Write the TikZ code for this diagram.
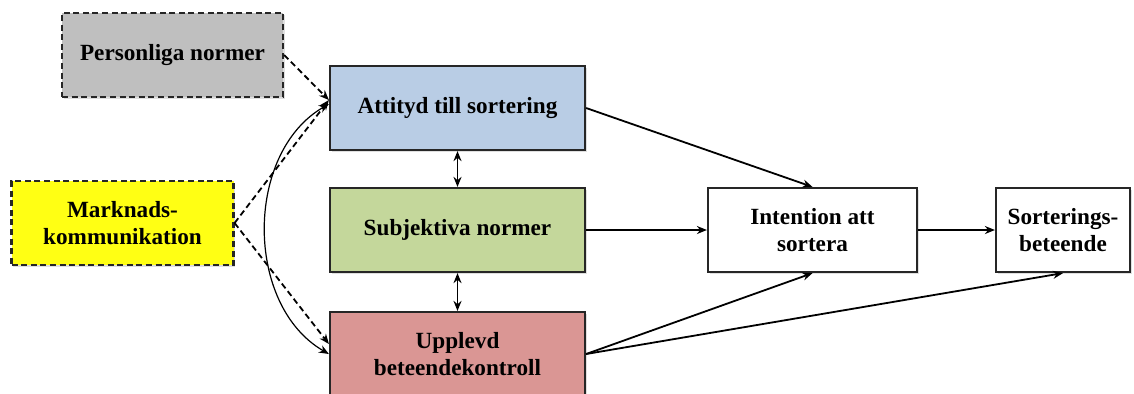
\documentclass[tikz,border=0pt]{standalone}
\usepackage{fontspec}
\setmainfont{Liberation Serif}
\usetikzlibrary{arrows.meta,shadows}

\definecolor{persgray}{RGB}{191,191,191}
\definecolor{attblue}{RGB}{185,205,229}
\definecolor{subgreen}{RGB}{196,215,155}
\definecolor{uppred}{RGB}{218,150,148}
\definecolor{markyellow}{RGB}{255,255,20}

\begin{document}
\begin{tikzpicture}[x=0.5pt, y=0.5pt,
  box/.style={draw=black!85, line width=1.1pt, align=center, inner sep=2pt,
    font=\fontsize{11.6}{13.6}\selectfont\bfseries, minimum height=42pt,
    drop shadow={shadow xshift=0.8pt, shadow yshift=-0.8pt, opacity=0.25}},
  extbox/.style={box, dash pattern=on 3pt off 1.8pt},
  arr/.style={line width=0.9pt, -{Stealth[length=5pt, width=4pt]}},
  dasharr/.style={arr, dash pattern=on 3pt off 1.8pt}]

  \useasboundingbox (0,0) rectangle (1134,-393);

  \node[extbox, fill=persgray, minimum width=110.5pt] (pers) at (172.5,-55) {Personliga normer};
  \node[extbox, fill=markyellow, minimum width=111pt] (mark) at (122.5,-223) {Marknads-\\kommunikation};

  \node[box, fill=attblue, minimum width=127.5pt] (att) at (457.5,-108) {Attityd till sortering};
  \node[box, fill=subgreen, minimum width=127.5pt] (sub) at (457.5,-230) {Subjektiva normer};
  \node[box, fill=uppred, minimum width=127.5pt] (upp) at (457.5,-354) {Upplevd\\beteendekontroll};

  \node[box, fill=white, minimum width=104.5pt] (int) at (812.5,-230) {Intention att\\sortera};
  \node[box, fill=white, minimum width=67pt] (sort) at (1063,-230) {Sorterings-\\beteende};

  \draw[dasharr] (pers.east) -- ([yshift=4pt]att.west);
  \draw[dasharr] (mark.east) -- ([yshift=4pt]att.west);
  \draw[dasharr] (mark.east) -- ([yshift=5pt]upp.west);
  \draw[line width=0.6pt, {Stealth[length=5pt, width=4pt]}-{Stealth[length=5pt, width=4pt]}]
    ([yshift=2pt]att.west) to[out=210, in=150] (upp.west);

  \draw[arr, {Stealth[length=5pt, width=4pt]}-{Stealth[length=5pt, width=4pt]}] (att.south) -- (sub.north);
  \draw[arr, {Stealth[length=5pt, width=4pt]}-{Stealth[length=5pt, width=4pt]}] (sub.south) -- (upp.north);

  \draw[arr] (att.east) -- (int.north);
  \draw[arr] (sub.east) -- (int.west);
  \draw[arr] (upp.east) -- (int.south);
  \draw[arr] (upp.east) -- (sort.south);
  \draw[arr] (int.east) -- (sort.west);

\end{tikzpicture}
\end{document}
